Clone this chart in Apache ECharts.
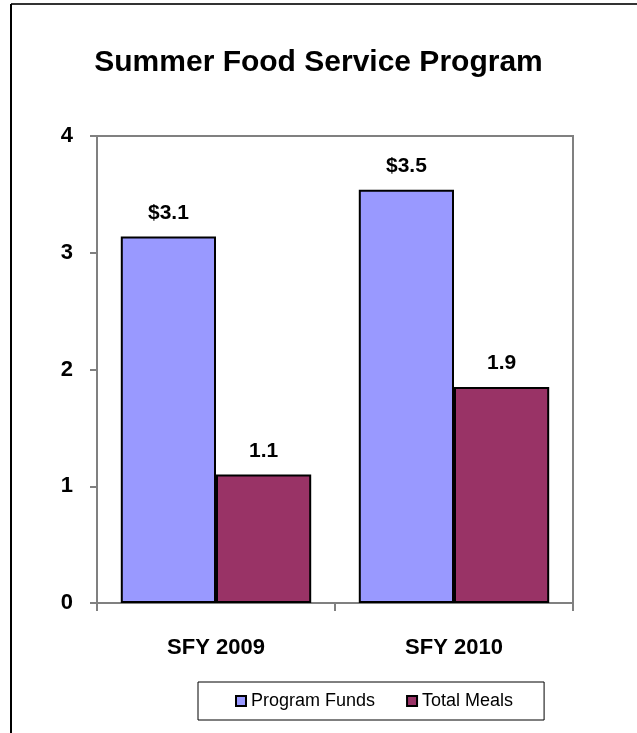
<!DOCTYPE html>
<html>
<head>
<meta charset="utf-8">
<script src="https://cdn.jsdelivr.net/npm/echarts@6/dist/echarts.min.js"></script>
<style>
  html, body { margin: 0; padding: 0; background: #fff; }
  #chart { width: 637px; height: 733px; }
</style>
</head>
<body>
<div id="chart"></div>
<script>
// data
const categories = ['SFY 2009', 'SFY 2010'];
const programFunds = [3.14, 3.54];
const totalMeals = [1.1, 1.85];
const yTicks = [0, 1, 2, 3, 4];

const chart = echarts.init(document.getElementById('chart'));
const boldLabel = { fontFamily: 'Arial, Liberation Sans', fontWeight: 'bold', fontSize: 21, color: '#000' };

const option = {
  animation: false,
  backgroundColor: '#fff',
  title: {
    text: 'Summer Food Service Program',
    left: 'center',
    top: 43,
    textStyle: { fontFamily: 'Arial, Liberation Sans', fontWeight: 'bold', fontSize: 30, color: '#000' }
  },
  // chart frame: top and left edge only
  graphic: [
    { type: 'line', shape: { x1: 11, y1: 4, x2: 637, y2: 4 }, style: { stroke: '#333', lineWidth: 2 } },
    { type: 'line', shape: { x1: 11, y1: 4, x2: 11, y2: 733 }, style: { stroke: '#000', lineWidth: 2 } }
  ],
  grid: {
    left: 97, right: 64, top: 136, bottom: 130,
    show: true, borderColor: '#808080', borderWidth: 2
  },
  legend: {
    left: 198, top: 682,
    padding: [10, 31, 10, 37],
    itemGap: 31,
    itemWidth: 10, itemHeight: 10,
    itemTextGap: 3,
    icon: 'rect',
    borderColor: '#000', borderWidth: 1,
    textStyle: { fontFamily: 'Arial, Liberation Sans', fontSize: 18, color: '#000' },
    data: ['Program Funds', 'Total Meals']
  },
  xAxis: {
    type: 'category',
    data: categories,
    axisLine: { lineStyle: { color: '#808080', width: 2 } },
    axisTick: { show: true, length: 8, lineStyle: { color: '#808080', width: 2 } },
    axisLabel: Object.assign({}, boldLabel, { margin: 34, fontSize: 22 })
  },
  yAxis: {
    type: 'value',
    min: yTicks[0], max: yTicks[yTicks.length - 1], interval: 1,
    splitLine: { show: false },
    axisLine: { show: true, lineStyle: { color: '#808080', width: 2 } },
    axisTick: { show: true, length: 7, lineStyle: { color: '#808080', width: 2 } },
    axisLabel: Object.assign({}, boldLabel, { margin: 24, fontSize: 22 })
  },
  series: [
    {
      name: 'Program Funds', type: 'bar', data: programFunds,
      barGap: '0%', barCategoryGap: '20%',
      itemStyle: { color: '#9999FF', borderColor: '#000', borderWidth: 2 },
      label: Object.assign({ show: true, position: 'top', distance: 13,
        formatter: p => '$' + p.value.toFixed(1) }, boldLabel)
    },
    {
      name: 'Total Meals', type: 'bar', data: totalMeals,
      itemStyle: { color: '#993366', borderColor: '#000', borderWidth: 2 },
      label: Object.assign({ show: true, position: 'top', distance: 13,
        formatter: p => p.value.toFixed(1) }, boldLabel)
    }
  ]
};
chart.setOption(option);
</script>
</body>
</html>
